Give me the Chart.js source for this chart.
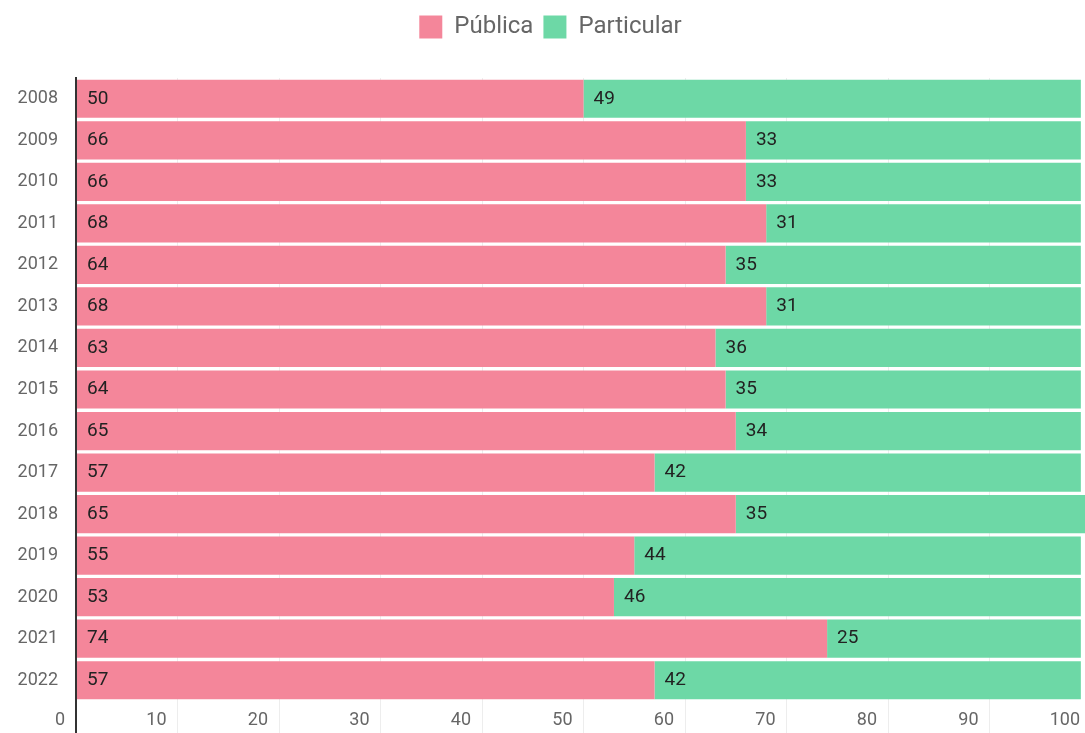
<!DOCTYPE html>
<html>
<head>
<meta charset="utf-8">
<script src="https://cdn.jsdelivr.net/npm/chart.js@4"></script>
<style>
  html, body { margin: 0; padding: 0; background: #fff; overflow: hidden; }
</style>
</head>
<body>
<canvas id="BarChartCanvas" width="1100" height="740"></canvas>
<script>
const years = ['2008', '2009', '2010', '2011', '2012', '2013', '2014', '2015',
  '2016', '2017', '2018', '2019', '2020', '2021', '2022'];
const publica = [50, 66, 66, 68, 64, 68, 63, 64, 65, 57, 65, 55, 53, 74, 57];
const particular = [49, 33, 33, 31, 35, 31, 36, 35, 34, 42, 35, 44, 46, 25, 42];
const xTicks = [0, 10, 20, 30, 40, 50, 60, 70, 80, 90, 100];

const PINK = '#f4869a';
const GREEN = '#6dd8a6';

/**
 * Draw the value of each segment just inside its left edge
 */
const barValues = {
  id: 'barValues',
  afterDatasetsDraw(chart) {
    const { ctx } = chart;
    ctx.save();
    ctx.font = '19px Roboto';
    ctx.fillStyle = '#222';
    ctx.textAlign = 'left';
    ctx.textBaseline = 'middle';
    chart.data.datasets.forEach((ds, i) => {
      chart.getDatasetMeta(i).data.forEach((bar, j) => {
        ctx.fillText(String(ds.data[j]), Math.min(bar.base, bar.x) + 10, bar.y);
      });
    });
    ctx.restore();
  },
};

/**
 * Extra room between the legend and the bars
 */
const legendSpacing = {
  id: 'legendSpacing',
  beforeInit(chart) {
    const fit = chart.legend.fit;
    chart.legend.fit = function () {
      fit.bind(chart.legend)();
      this.height += 29;
    };
  },
};

const ctx = document.getElementById('BarChartCanvas').getContext('2d');

window.BarChartRef = new Chart(ctx, {
  type: 'bar',
  data: {
    labels: years,
    datasets: [
      { label: 'Pública', data: publica, backgroundColor: PINK },
      { label: 'Particular', data: particular, backgroundColor: GREEN },
    ],
  },
  plugins: [barValues, legendSpacing],
  options: {
    indexAxis: 'y',
    responsive: false,
    animation: false,
    layout: { padding: { left: 10, right: 9, top: 5, bottom: 7 } },
    datasets: {
      bar: { barPercentage: 0.92, categoryPercentage: 1 },
    },
    plugins: {
      tooltip: { enabled: false },
      legend: {
        labels: {
          font: { family: 'Roboto', size: 24 },
          color: '#666',
          boxWidth: 23,
          boxHeight: 23,
          padding: 10,
        },
      },
    },
    scales: {
      x: {
        stacked: true,
        min: 0,
        max: 100,
        afterBuildTicks(scale) {
          scale.ticks = xTicks.map(value => ({ value }));
        },
        afterFit(scale) {
          scale.height = 32;
        },
        grid: {
          color: c => (c.index === 0 ? '#333' : 'rgba(0,0,0,0.07)'),
          lineWidth: c => (c.index === 0 ? 2 : 1),
          tickLength: 40,
        },
        border: { display: false },
        ticks: {
          align: 'end',
          labelOffset: -11,
          padding: -31,
          maxRotation: 0,
          autoSkip: false,
          color: '#666',
          font: { family: 'Roboto', size: 18 },
        },
      },
      y: {
        stacked: true,
        afterFit(scale) {
          scale.width = 66;
        },
        grid: { display: false, drawTicks: false },
        border: { display: true, color: '#333', width: 2 },
        ticks: {
          padding: 18,
          color: '#666',
          font: { family: 'Roboto', size: 18 },
        },
      },
    },
  },
});
</script>
</body>
</html>
